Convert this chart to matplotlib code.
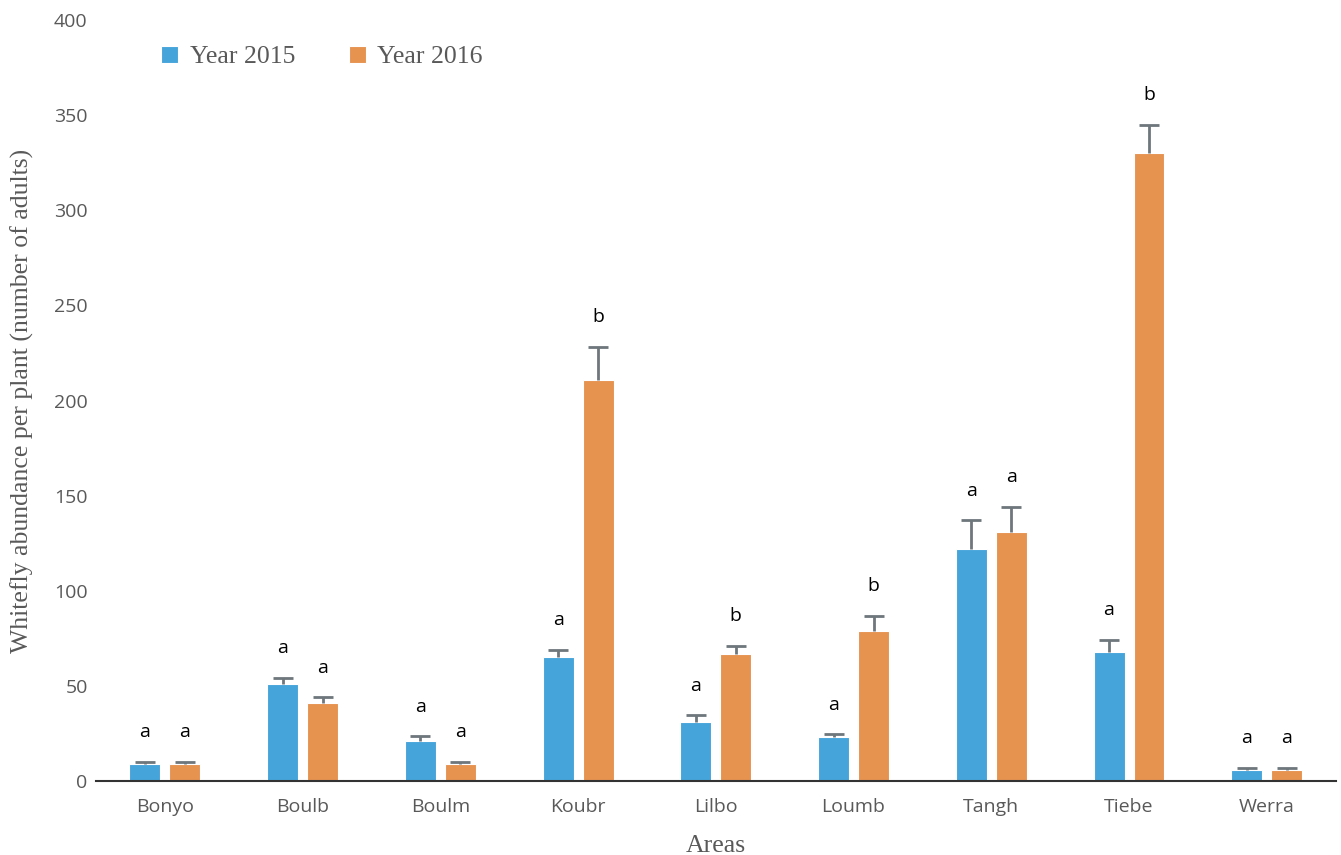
import numpy as np
import matplotlib
matplotlib.use("Agg")
import matplotlib.pyplot as plt

# ── Data ────────────────────────────────────────────────────────────
areas     = ["Bonyo", "Boulb", "Boulm", "Koubr", "Lilbo", "Loumb", "Tangh", "Tiebe", "Werra"]
mean_2015 = [9, 51, 21, 65, 31, 23, 122, 68, 6]
err_2015  = [1, 3, 2.5, 4, 3.5, 1.5, 15, 6, 1]
mean_2016 = [9, 41, 9, 211, 67, 79, 131, 330, 6]
err_2016  = [1, 3, 1, 17, 4, 8, 13, 15, 1]
let_2015  = ["a", "a", "a", "a", "a", "a", "a", "a", "a"]
let_2016  = ["a", "a", "a", "b", "b", "b", "a", "b", "a"]

BLUE, ORANGE, GREY = "#45A4DA", "#E69350", "#6E777C"
TXT = "#595959"

fig = plt.figure(figsize=(13.41, 8.55), dpi=100)
ax = fig.add_axes([0.0716, 0.0865, 0.9244, 0.890])

x = np.arange(len(areas))
w, off = 0.225, 0.145
b1 = ax.bar(x - off, mean_2015, w, color=BLUE, edgecolor="white", linewidth=0.8,
            label="Year 2015")
b2 = ax.bar(x + off, mean_2016, w, color=ORANGE, edgecolor="white", linewidth=0.8,
            label="Year 2016")

# upper-only error bars with a single cap, then significance letters
for xs, m, e, lab in [(x - off, mean_2015, err_2015, let_2015),
                      (x + off, mean_2016, err_2016, let_2016)]:
    top = np.array(m) + np.array(e)
    ax.vlines(xs, m, top, color=GREY, lw=2, zorder=3)
    ax.plot(xs, top, ls="", marker="_", ms=14, mew=2, color=GREY, zorder=3)
    for xi, ti, li in zip(xs, top, lab):
        ax.annotate(li, (xi, ti), xytext=(0, 15), textcoords="offset points",
                    ha="center", va="bottom", fontsize=14, color="black",
                    family="Open Sans")

ax.set_xlim(-0.5, len(areas) - 0.5)
ax.set_ylim(0, 400)
ax.set_yticks(range(0, 401, 50))
ax.set_xticks(x)
ax.set_xticklabels(areas)
ax.tick_params(axis="both", length=0, labelsize=14, labelcolor=TXT)
ax.tick_params(axis="x", pad=12)
ax.tick_params(axis="y", pad=6)
for lbl in ax.get_xticklabels() + ax.get_yticklabels():
    lbl.set_family("Open Sans")

for s in ["top", "right", "left"]:
    ax.spines[s].set_visible(False)
ax.spines["bottom"].set_color("#333333")
ax.spines["bottom"].set_linewidth(1.5)

ax.set_xlabel("Areas", family="Liberation Serif", fontsize=18.5, color=TXT, labelpad=14)
ax.set_ylabel("Whitefly abundance per plant (number of adults)", family="Liberation Serif",
              fontsize=18.5, color=TXT, labelpad=14)

ax.legend(handles=[b1.patches[0], b2.patches[0]], labels=["Year 2015", "Year 2016"],
          loc="upper left", bbox_to_anchor=(0.034, 0.997), ncol=2, frameon=False,
          prop={"family": "Liberation Serif", "size": 18.5}, labelcolor=TXT,
          handlelength=0.65, handleheight=0.65, columnspacing=2.1, handletextpad=0.45)

fig.savefig("out.png", dpi=100)
